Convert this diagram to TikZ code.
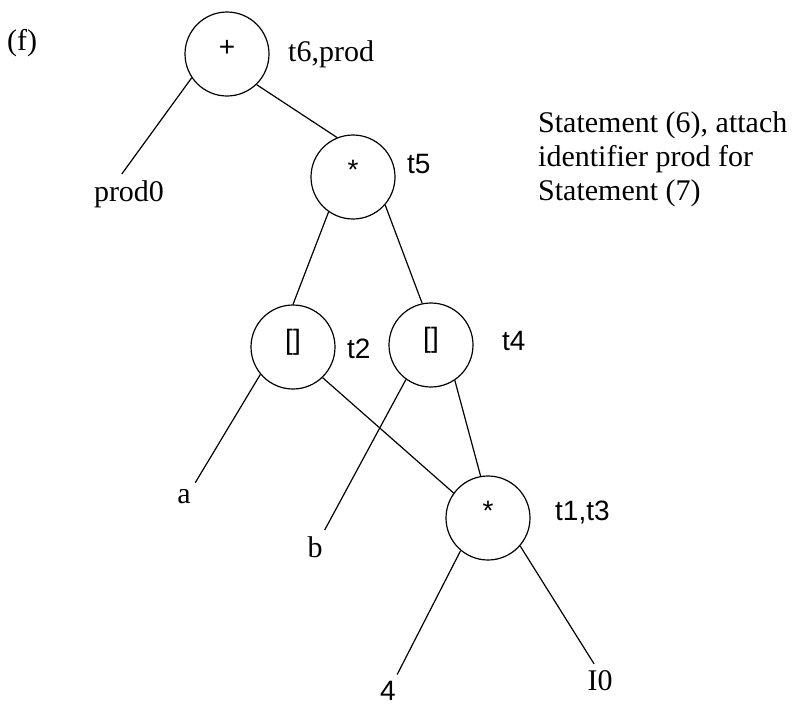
\documentclass[tikz,border=0pt]{standalone}
\usepackage{fontspec}
\setmainfont{Liberation Serif}
\setsansfont{Liberation Sans}

\begin{document}
\begin{tikzpicture}[x=1pt,y=-1pt,
  op/.style={circle,draw,line width=1.2pt,minimum size=84pt,inner sep=0pt,
    text height=0.7em,text depth=0.25em,font=\fontsize{28}{30}\selectfont\sffamily},
  leaf/.style={inner sep=6pt,anchor=base,font=\fontsize{30}{33}\selectfont},
  tag/.style={inner sep=0pt,anchor=base west,font=\fontsize{28}{30}\selectfont\sffamily},
  note/.style={inner sep=0pt,anchor=base west,font=\fontsize{30}{34}\selectfont},
  link/.style={line width=1.2pt}]
\useasboundingbox (0,0) rectangle (798,705);
\node[note] (f) at (7,50) {(f)};
\node[op] (plus) at (227,54) {+};
\node[op] (t5) at (353,177) {*};
\node[op] (L) at (293,347) {[]};
\node[op] (R) at (431,345) {[]};
\node[op] (B) at (488,518) {*};
\node[note] (plustag) at (288,61) {t6,prod};
\node[tag] (t5tag) at (407,173) {t5};
\node[tag] (Ltag) at (347,358) {t2};
\node[tag] (Rtag) at (502,350) {t4};
\node[tag] (Btag) at (555,520) {t1,t3};
\node[leaf] (prod0) at (129,201) {prod0};
\node[leaf] (a) at (184,503) {a};
\node[leaf] (b) at (315,557) {b};
\node[leaf,font=\fontsize{28}{30}\selectfont\sffamily] (four) at (388,700) {4};
\node[leaf] (I0) at (600,690) {I0};
\node[note,align=left,anchor=north west] (stmt) at (538,111) {Statement (6), attach\\identifier prod for\\Statement (7)};
\draw[link] (plus.214) -- (prod0.110);
\draw[link] (plus.-46) -- (t5.112);
\draw[link] (t5.235) -- (L.90);
\draw[link] (t5.-41) -- (R.102);
\draw[link] (L.220) -- (a.50);
\draw[link] (L.-46) -- (B.144);
\draw[link] (R.234) -- (b.60);
\draw[link] (R.-56) -- (B.100);
\draw[link] (B.230) -- (four.60);
\draw[link] (B.-41) -- (I0.110);
\end{tikzpicture}
\end{document}
